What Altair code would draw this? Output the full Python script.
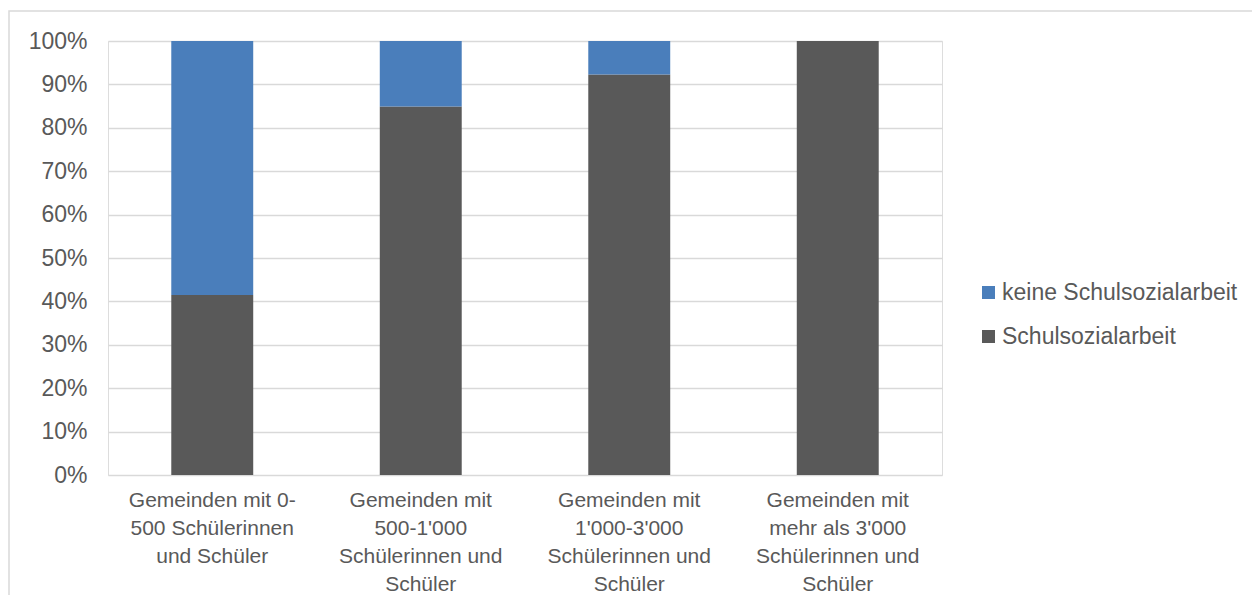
import json
import altair as alt
import pandas as pd

categories = [
    "Gemeinden mit 0-500 Schülerinnen und Schüler",
    "Gemeinden mit 500-1'000 Schülerinnen und Schüler",
    "Gemeinden mit 1'000-3'000 Schülerinnen und Schüler",
    "Gemeinden mit mehr als 3'000 Schülerinnen und Schüler",
]
label_lines = [
    ["Gemeinden mit 0-", "500 Schülerinnen", "und Schüler"],
    ["Gemeinden mit", "500-1'000", "Schülerinnen und", "Schüler"],
    ["Gemeinden mit", "1'000-3'000", "Schülerinnen und", "Schüler"],
    ["Gemeinden mit", "mehr als 3'000", "Schülerinnen und", "Schüler"],
]
series = ["keine Schulsozialarbeit", "Schulsozialarbeit"]
schulsozialarbeit = [0.415, 0.849, 0.923, 1.0]
keine = [0.585, 0.151, 0.077, 0.0]
colors = ["#4a7ebb", "#595959"]

rows = []
for i, c in enumerate(categories):
    rows.append({"cat": c, "serie": "Schulsozialarbeit", "val": schulsozialarbeit[i], "ord": 0})
    rows.append({"cat": c, "serie": "keine Schulsozialarbeit", "val": keine[i], "ord": 1})
df = pd.DataFrame(rows)

label_map = json.dumps({c: l for c, l in zip(categories, label_lines)}, ensure_ascii=False)

FONT = "Liberation Sans"
TXT = "#595959"

bars = alt.Chart(df).mark_bar().encode(
    x=alt.X("cat:N", sort=categories, title=None,
            scale=alt.Scale(paddingInner=0.607, paddingOuter=0.3035),
            axis=alt.Axis(labelExpr=label_map + "[datum.label]", labelAngle=0,
                          ticks=False, domain=False, labelPadding=14,
                          labelFontSize=21, labelLineHeight=28, labelColor=TXT,
                          labelFont=FONT, labelLimit=300)),
    y=alt.Y("val:Q", stack="zero", title=None,
            scale=alt.Scale(domain=[0, 1]),
            axis=alt.Axis(format=".0%", values=[i / 10 for i in range(11)],
                          ticks=False, domain=False, labelPadding=21,
                          labelFontSize=23, labelColor=TXT, labelFont=FONT,
                          gridColor="#d9d9d9", gridWidth=1.3)),
    color=alt.Color("serie:N", title=None,
                    scale=alt.Scale(domain=series, range=colors),
                    legend=alt.Legend(orient="none", legendX=869, legendY=240,
                                      symbolType="square", symbolSize=169,
                                      symbolStrokeWidth=0, labelFontSize=23,
                                      labelColor=TXT, labelFont=FONT, labelLimit=400,
                                      rowPadding=20, labelOffset=2, padding=0)),
    order=alt.Order("ord:Q"),
)

border = alt.Chart(pd.DataFrame({"a": [0]})).mark_rect(
    fill=None, stroke="#d9d9d9", strokeWidth=1.5, clip=False
).encode(x=alt.value(-99), x2=alt.value(1300), y=alt.value(-30), y2=alt.value(800))

chart = alt.layer(border, bars).properties(
    width=834, height=434,
    autosize=alt.AutoSizeParams(type="none"),
    padding={"left": 100, "top": 33, "right": 310, "bottom": 120},
).configure_view(stroke=None).configure(background="white")

chart.save("out.html", embed_options={"renderer": "svg", "actions": False})
